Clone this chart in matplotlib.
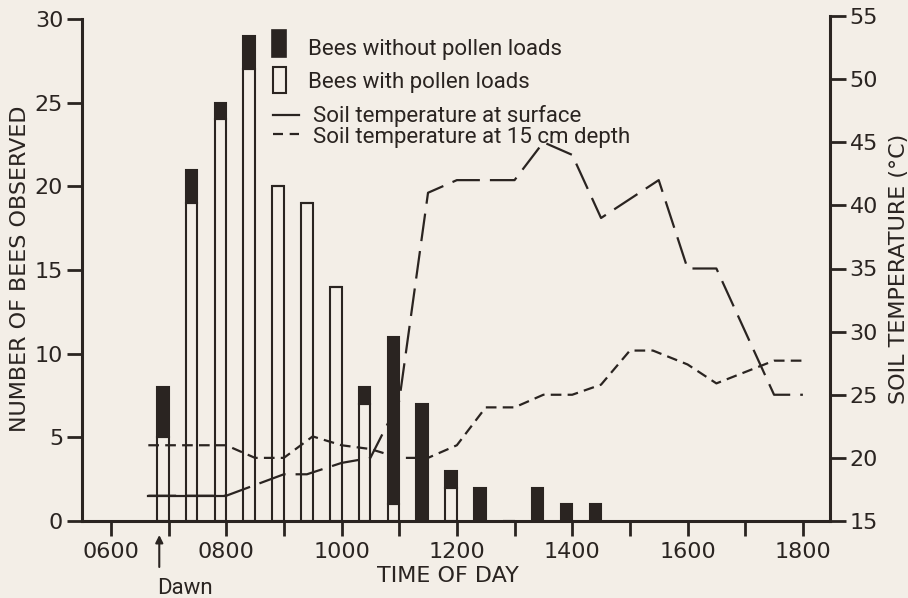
import matplotlib
matplotlib.use("Agg")
import matplotlib.pyplot as plt
from matplotlib.patches import Rectangle
from matplotlib.lines import Line2D

# ---------------- data ----------------
bar_times = [7.0, 7.5, 8.0, 8.5, 9.0, 9.5, 10.0, 10.5, 11.0, 11.5, 12.0, 12.5, 13.0, 13.5, 14.0, 14.5]
with_pollen = [5, 19, 24, 27, 20, 19, 14, 7, 1, 0, 2, 0, 0, 0, 0, 0]
without_pollen = [3, 2, 1, 2, 0, 0, 0, 1, 10, 7, 1, 2, 0, 2, 1, 1]

surface_times = [6.65, 8.0, 9.0, 9.4, 10.0, 10.5, 11.0, 11.5, 12.0, 13.0, 13.5, 14.0, 14.5, 15.5, 16.0, 16.5, 17.5, 18.0]
surface_temp = [17, 17, 18.7, 18.7, 19.6, 20, 24.5, 41, 42, 42, 45, 44, 39, 42, 35, 35, 25, 25]

depth_times = [6.65, 8.0, 8.5, 9.0, 9.5, 10.0, 10.5, 11.0, 11.5, 12.0, 12.5, 13.0, 13.5, 14.0, 14.5, 15.0, 15.4, 16.0, 16.5, 17.5, 18.0]
depth_temp = [21, 21, 20, 20, 21.7, 21, 20.7, 20, 20, 21, 24, 24, 25, 25, 25.8, 28.5, 28.5, 27.4, 25.9, 27.7, 27.7]

hour_ticks = [6, 7, 8, 9, 10, 11, 12, 13, 14, 15, 16, 17, 18]
hour_labels = ["0600", "", "0800", "", "1000", "", "1200", "", "1400", "", "1600", "", "1800"]
bee_ticks = [0, 5, 10, 15, 20, 25, 30]
temp_ticks = [15, 20, 25, 30, 35, 40, 45, 50, 55]

dawn_time = 6.84
legend_labels = ["Bees without pollen loads", "Bees with pollen loads",
                 "Soil temperature at surface", "Soil temperature at 15 cm depth"]

# ---------------- style ----------------
BG = "#f3eee7"
INK = "#2a2421"
W, H = 908, 598

fig = plt.figure(figsize=(W / 100, H / 100), dpi=100, facecolor=BG)
ax_l, ax_r, ax_b, ax_t = 82, 830, 521, 16
ax = fig.add_axes([ax_l / W, 1 - ax_b / H, (ax_r - ax_l) / W, (ax_b - ax_t) / H])
ax.set_facecolor(BG)

def fxy(x, y):
    return (x / W, 1 - y / H)

# bars (right edge of each bar on its half-hour mark)
ax.bar(bar_times, with_pollen, width=-0.2, align="edge", color=BG, edgecolor=INK, linewidth=1.5, zorder=2)
ax.bar(bar_times, without_pollen, bottom=with_pollen, width=-0.2, align="edge",
       color=INK, edgecolor=INK, linewidth=1.5, zorder=2)

ax.set_xlim(5.5, 18.47)
ax.set_ylim(0, 30.18)
ax.set_xticks(hour_ticks)
ax.set_xticklabels(hour_labels)
ax.set_yticks(bee_ticks)
for s in ["top", "right"]:
    ax.spines[s].set_visible(False)
for s in ["left", "bottom"]:
    ax.spines[s].set_linewidth(2.2)
    ax.spines[s].set_color(INK)
ax.spines["left"].set_bounds(0, 30)
ax.tick_params(axis="both", direction="out", length=10.8, width=2.0, color=INK,
               labelcolor=INK, labelsize=16)
ax.tick_params(axis="x", pad=4)
ax.tick_params(axis="y", pad=2.7)

ax.set_ylabel("NUMBER OF BEES OBSERVED", fontsize=16, color=INK, va="center")
ax.yaxis.set_label_coords((20 - ax_l) / (ax_r - ax_l), 0.5)
ax.set_xlabel("TIME OF DAY", fontsize=16, color=INK, va="center")
ax.xaxis.set_label_coords((447.5 - ax_l) / (ax_r - ax_l), -(575.5 - ax_b) / (ax_b - ax_t))

# temperature axis
ax2 = ax.twinx()
ax2.set_ylim(15, 55)
ax2.set_yticks(temp_ticks)
for s in ["top", "left", "bottom"]:
    ax2.spines[s].set_visible(False)
ax2.spines["right"].set_linewidth(2.2)
ax2.spines["right"].set_color(INK)
ax2.tick_params(axis="y", direction="out", length=11.5, width=2.0, color=INK,
                labelcolor=INK, labelsize=16, pad=2.5)
ax2.set_ylabel("SOIL TEMPERATURE (°C)", fontsize=16, color=INK, rotation=90, va="center")
ax2.yaxis.set_label_coords((899 - ax_l) / (ax_r - ax_l), 0.5)

lw = 1.6
ax2.plot(surface_times, surface_temp, color=INK, lw=lw, linestyle=(0, (12.5, 4.5)), zorder=3)
ax2.plot(surface_times[:2], surface_temp[:2], color=INK, lw=lw, linestyle="-", zorder=3)
ax2.plot(depth_times, depth_temp, color=INK, lw=lw, linestyle=(0, (4.8, 2.8)), zorder=3)

# dawn marker
ax.annotate("", xy=(dawn_time, -(535 - ax_b) / (ax_b - ax_t)), xycoords=("data", "axes fraction"),
            xytext=(dawn_time, -(567 - ax_b) / (ax_b - ax_t)), textcoords=("data", "axes fraction"),
            arrowprops=dict(arrowstyle="-|>", color=INK, lw=1.5, mutation_scale=11,
                            shrinkA=0, shrinkB=0), annotation_clip=False)
ax.text(dawn_time - 0.03, -(594 - ax_b) / (ax_b - ax_t), "Dawn", transform=ax.get_xaxis_transform(),
        fontsize=16, family="Roboto", color=INK, ha="left", va="baseline", clip_on=False)

# legend (drawn in figure pixel positions)
fig.add_artist(Rectangle(fxy(271.7, 56.7), 14.3 / W, 26.7 / H, transform=fig.transFigure,
                         facecolor=INK, edgecolor=INK, lw=1.2))
fig.add_artist(Rectangle(fxy(273, 93.3), 12.5 / W, 26.3 / H, transform=fig.transFigure,
                         facecolor=BG, edgecolor=INK, lw=1.5))
x0, y0 = fxy(273.3, 115)
x1, _ = fxy(299.3, 115)
fig.add_artist(Line2D([x0, x1], [y0, y0], transform=fig.transFigure, color=INK, lw=lw))
x0, y1 = fxy(273.3, 134)
fig.add_artist(Line2D([x0, x1], [y1, y1], transform=fig.transFigure, color=INK, lw=lw,
                      linestyle=(0, (4.5, 3.0))))
for lab, (tx, ty) in zip(legend_labels, [(308.3, 55), (308.3, 88.3), (313.3, 121.8), (313.3, 143.2)]):
    fig.text(*fxy(tx, ty), lab, fontsize=16, family="Roboto", color=INK, ha="left", va="baseline")

fig.savefig("out.png", dpi=100, facecolor=BG)
